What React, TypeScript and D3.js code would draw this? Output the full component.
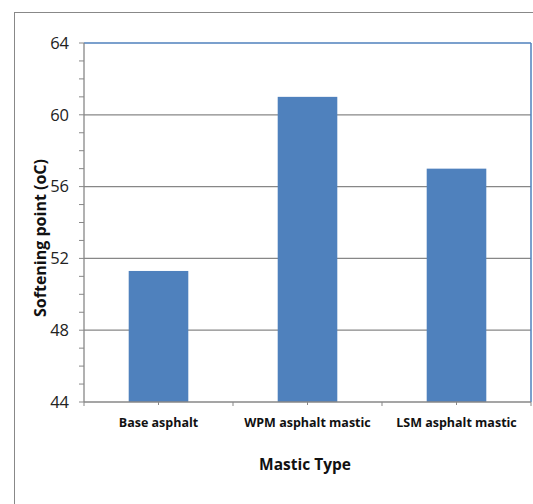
import React from "react";
import * as d3 from "d3";

const categories = ["Base asphalt", "WPM asphalt mastic", "LSM asphalt mastic"];
const values = [51.3, 61.0, 57.0];
const yTicks = [44, 48, 52, 56, 60, 64];

export default function App() {
  const W = 533, H = 504;
  const left = 84, right = 531, top = 43, bottom = 402;
  const x = d3.scaleBand<string>().domain(categories).range([left, right]).padding(0);
  const y = d3.scaleLinear().domain([44, 64]).range([bottom, top]);
  const barW = x.bandwidth() * 0.4;
  const minor = d3.range(44, 64.01, 1);
  const font = "'Open Sans', 'Liberation Sans', sans-serif";
  const grid = "#878787";
  return (
    <svg width={W} height={H} style={{ position: "absolute", left: 0, top: 0, display: "block" }}>
      <rect x={0} y={0} width={W} height={H} fill="#fff" />
      <rect x={14.5} y={12.5} width={W} height={H} fill="none" stroke="#888" strokeWidth={1} />
      {yTicks.slice(1, -1).map((t) => (
        <line key={"g" + t} x1={left} x2={right} y1={y(t)} y2={y(t)} stroke={grid} strokeWidth={1.3} />
      ))}
      {categories.map((c, i) => (
        <rect key={c} x={x(c)! + (x.bandwidth() - barW) / 2} y={y(values[i])} width={barW} height={bottom - y(values[i])} fill="#4f81bd" />
      ))}
      <line x1={left} x2={right} y1={top} y2={top} stroke="#4f81bd" strokeWidth={1.5} />
      <line x1={right} x2={right} y1={top} y2={bottom} stroke="#4f81bd" strokeWidth={1.5} />
      <line x1={left} x2={left} y1={top} y2={bottom} stroke={grid} strokeWidth={1.3} />
      <line x1={left} x2={right} y1={bottom} y2={bottom} stroke={grid} strokeWidth={1.3} />
      {minor.map((t) => (
        <line key={"m" + t} x1={left - 5} x2={left} y1={y(t)} y2={y(t)} stroke={grid} strokeWidth={1} />
      ))}
      {yTicks.map((t) => (
        <text key={"t" + t} x={left - 15} y={y(t)} dy="0.35em" textAnchor="end" fontFamily={font} fontSize={16.5} fill="#222">{t}</text>
      ))}
      {[...categories.map((c) => x(c)!), right].map((px, i) => (
        <line key={"b" + i} x1={px} x2={px} y1={bottom} y2={bottom + 4} stroke={grid} strokeWidth={1} />
      ))}
      {categories.map((c) => (
        <line key={"c" + c} x1={x(c)! + x.bandwidth() / 2} x2={x(c)! + x.bandwidth() / 2} y1={bottom} y2={bottom + 3} stroke={grid} strokeWidth={1} />
      ))}
      {categories.map((c) => (
        <text key={"l" + c} x={x(c)! + x.bandwidth() / 2} y={423} dy="0.35em" textAnchor="middle" fontFamily={font} fontSize={12.5} fontWeight="bold" fill="#111">{c}</text>
      ))}
      <text x={305} y={465} dy="0.35em" textAnchor="middle" fontFamily={font} fontSize={15.5} fontWeight="bold" fill="#111">Mastic Type</text>
      <text transform={`translate(40,238) rotate(-90)`} dy="0.35em" textAnchor="middle" fontFamily={font} fontSize={16} fontWeight="bold" fill="#111">Softening point (oC)</text>
    </svg>
  );
}
